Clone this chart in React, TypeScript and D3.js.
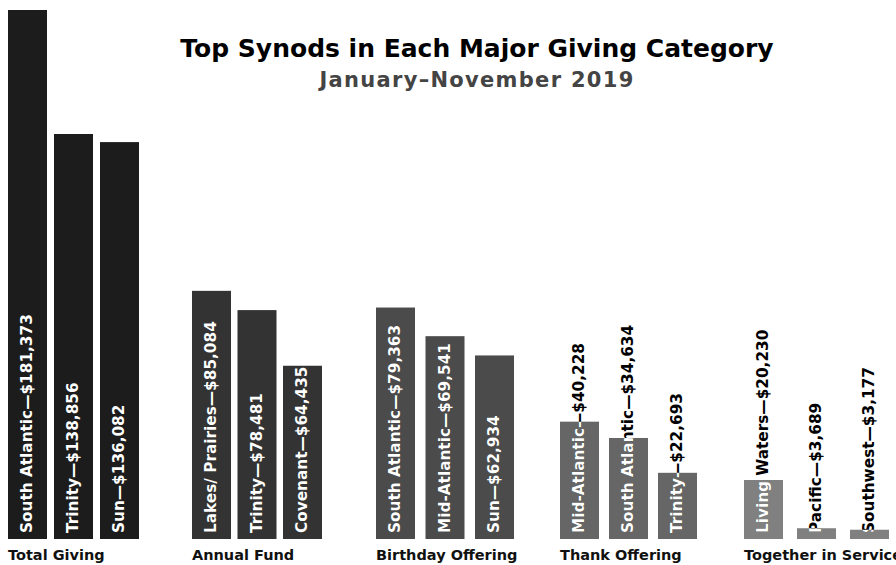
import React, { useEffect, useRef } from 'react';
import * as d3 from 'd3';

const categories = ['Total Giving', 'Annual Fund', 'Birthday Offering', 'Thank Offering', 'Together in Service'];
const synods = [
  ['South Atlantic', 'Trinity', 'Sun'],
  ['Lakes/ Prairies', 'Trinity', 'Covenant'],
  ['South Atlantic', 'Mid-Atlantic', 'Sun'],
  ['Mid-Atlantic', 'South Atlantic', 'Trinity'],
  ['Living Waters', 'Pacific', 'Southwest'],
];
// amounts printed in the labels
const amounts = [
  [181373, 138856, 136082],
  [85084, 78481, 64435],
  [79363, 69541, 62934],
  [40228, 34634, 22693],
  [20230, 3689, 3177],
];
// bar heights as drawn in the picture (Covenant's bar is drawn shorter than its label)
const barAmounts = [
  [181373, 138856, 136082],
  [85084, 78481, 59400],
  [79363, 69541, 62934],
  [40228, 34634, 22693],
  [20230, 3689, 3177],
];
const groupColors = ['#1c1c1c', '#333333', '#4b4b4b', '#666666', '#808080'];
// spacing between bars within each group
const innerGaps = [7, 6.5, 10.5, 10, 14];

const FONT = "'DejaVu Sans', sans-serif";

const App = () => {
  const svgRef = useRef(null);

  useEffect(() => {
    if (!svgRef.current) return;
    const width = 896;
    const height = 565;
    const baseline = 539;
    const barW = 39;

    const svg = d3.select(svgRef.current).attr('width', width).attr('height', height);
    svg.selectAll('*').remove();

    const x0 = d3.scaleBand().domain(categories).range([8, 882]).paddingInner(0.25).paddingOuter(0);
    const y = d3.scaleLinear().domain([0, 181373]).range([baseline, 10]);
    const fmt = d3.format('$,');

    const defs = svg.append('defs');

    // title
    svg
      .append('text')
      .attr('x', 477)
      .attr('y', 57)
      .attr('text-anchor', 'middle')
      .style('font-family', FONT)
      .style('font-weight', 'bold')
      .style('font-size', '25px')
      .attr('fill', '#000')
      .text('Top Synods in Each Major Giving Category');
    svg
      .append('text')
      .attr('x', 477)
      .attr('y', 87)
      .attr('text-anchor', 'middle')
      .style('font-family', FONT)
      .style('font-weight', 'bold')
      .style('font-size', '21px')
      .style('letter-spacing', '1.3px')
      .attr('fill', '#444')
      .text('January–November 2019');

    categories.forEach((cat, gi) => {
      const g = svg.append('g').attr('transform', `translate(${x0(cat)},0)`);
      const inner = 3 * barW + 2 * innerGaps[gi];
      const x1 = d3
        .scaleBand()
        .domain(['0', '1', '2'])
        .range([0, inner])
        .paddingInner(innerGaps[gi] / (barW + innerGaps[gi]));

      g.append('text')
        .attr('x', 0)
        .attr('y', 560)
        .style('font-family', FONT)
        .style('font-weight', 'bold')
        .style('font-size', '14.5px')
        .attr('fill', '#111')
        .text(cat);

      barAmounts[gi].forEach((v, i) => {
        const bx = x1(String(i));
        const bw = x1.bandwidth();
        const id = `clip-${gi}-${i}`;
        defs
          .append('clipPath')
          .attr('id', id)
          .append('rect')
          .attr('x', x0(cat) + bx)
          .attr('y', y(v))
          .attr('width', bw)
          .attr('height', baseline - y(v));

        g.append('rect')
          .attr('x', bx)
          .attr('y', y(v))
          .attr('width', bw)
          .attr('height', baseline - y(v))
          .attr('fill', groupColors[gi]);

        const label = `${synods[gi][i]}—${fmt(amounts[gi][i])}`;
        const cx = bx + bw / 2 - 1;
        const addLabel = (sel, color) =>
          sel
            .append('text')
            .attr('transform', `translate(${cx},${baseline - 6}) rotate(-90)`)
            .attr('dy', '0.36em')
            .style('font-family', FONT)
            .style('font-weight', 'bold')
            .style('font-size', '15.3px')
            .attr('fill', color)
            .text(label);

        addLabel(g, '#000');
        const clipped = svg.append('g').attr('clip-path', `url(#${id})`);
        addLabel(clipped.append('g').attr('transform', `translate(${x0(cat)},0)`), '#fff');
      });
    });

    return () => {
      svg.selectAll('*').remove();
    };
  }, []);

  return <svg ref={svgRef} style={{ position: 'absolute', left: 0, top: 0, background: '#fff' }} />;
};

export default App;
